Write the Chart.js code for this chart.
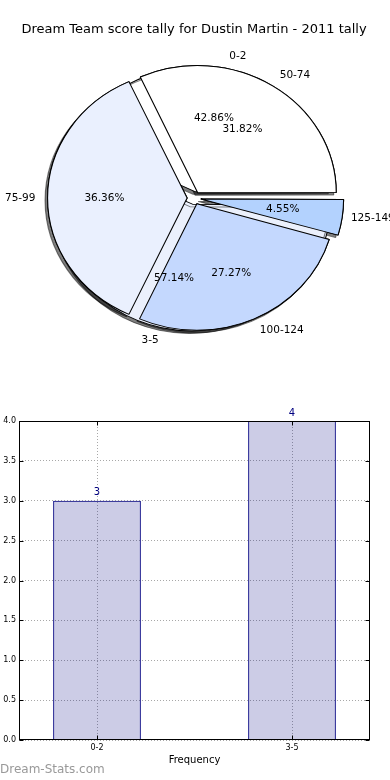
<!DOCTYPE html>
<html>
<head>
<meta charset="utf-8">
<script src="https://cdn.jsdelivr.net/npm/chart.js@4.4.1/dist/chart.umd.min.js"></script>
<style>
  html, body { margin:0; padding:0; background:#fff; }
  #wrap { position:relative; width:390px; height:780px; overflow:hidden; }
  canvas { position:absolute; left:0; }
  #pieBack, #pieFront { top:0; }
  #bars { top:400px; }
  #mark { position:absolute; left:0; top:762px; font:12px "DejaVu Sans", sans-serif; color:#999; }
</style>
</head>
<body>
<div id="wrap">
  <canvas id="pieBack" width="390" height="390"></canvas>
  <canvas id="pieFront" width="390" height="390"></canvas>
  <canvas id="bars" width="390" height="380"></canvas>
  <div id="mark">Dream-Stats.com</div>
</div>
<script>
// data
const chartTitle = "Dream Team score tally for Dustin Martin - 2011 tally";
const goalLabels = ["0-2", "3-5"];
const goalCounts = [3, 4];
const scoreLabels = ["50-74", "75-99", "100-124", "125-149"];
const scoreCounts = [7, 8, 6, 1];
const goalColors = ["#ffffff", "#ebf0fc"];
const scoreColors = ["#ffffff", "#eaf0fe", "#c4d8fe", "#b3d2fe"];
const freqTitle = "Frequency";

Chart.defaults.font.family = "'DejaVu Sans', sans-serif";
Chart.defaults.color = "#000";
Chart.defaults.animation = false;

const SX = 1.09;      // the matplotlib pie isn't equal aspect, so it's an ellipse
const PIE_R = 126.5;
const EXPLODE = 6.3;  // px the wedges are pushed out (chart.js divides offset by 4)

// matplotlib goes counter clockwise from 3 o'clock, chart.js clockwise -> reverse + rotation 90
const rev = (a)=> a.slice().reverse();

let backPie = null, frontPie = null;

function pieCenter(chart){
  const a = chart.chartArea;
  return { cx:(a.left+a.right)/2, cy:(a.top+a.bottom)/2 };
}

function setShadow(ctx){
  ctx.shadowColor = "rgba(0,0,0,0.5)";
  ctx.shadowOffsetX = -2.5;
  ctx.shadowOffsetY = 2.5;
}

const stretch = {
  id: "stretch",
  beforeDatasetsDraw(chart, args, opts){
    const ctx = chart.ctx, {cx, cy} = pieCenter(chart);
    ctx.save();
    ctx.translate(cx, cy); ctx.scale(SX, 1); ctx.translate(-cx, -cy);
    if (opts.shadow){
      setShadow(ctx);
      // shadows of the front pie go under everything, like matplotlib does
      if (frontPie) frontPie.getDatasetMeta(0).data.forEach(arc=> arc.draw(ctx));
    }
  },
  afterDatasetsDraw(chart){ chart.ctx.restore(); }
};

function wedgeText(ctx, chart, names, counts){
  const {cx} = pieCenter(chart);
  const total = counts.reduce((a,b)=>a+b,0);
  chart.getDatasetMeta(0).data.forEach((arc, i)=>{
    const p = arc.getProps(["x","y","startAngle","endAngle"], true);
    const mid = (p.startAngle + p.endAngle)/2;
    const c = Math.cos(mid), s = Math.sin(mid);
    const at = (k)=>({ x: cx + (p.x - cx + c*(k*PIE_R + EXPLODE))*SX, y: p.y + s*(k*PIE_R + EXPLODE) });
    const lab = at(1.1);
    ctx.textAlign = c > 0 ? "left" : "right";
    ctx.fillText(names[i], lab.x, lab.y);
    const pc = at(0.6);
    ctx.textAlign = "center";
    ctx.fillText((counts[i]*100/total).toFixed(2)+"%", pc.x, pc.y);
  });
}

function pieOptions(radius, shadow, titleColor){
  return {
    responsive:false,
    events:[],
    rotation:90,
    radius: radius,
    layout:{ padding:{ top:0, left:0, right:2, bottom:31.8 } },
    plugins:{
      legend:{ display:false },
      tooltip:{ enabled:false },
      stretch:{ shadow },
      title:{ display:true, text:chartTitle, color:titleColor,
              font:{ size:13, weight:"normal" }, padding:{ top:22.2, bottom:0 } }
    }
  };
}

backPie = new Chart(document.getElementById("pieBack"), {
  type:"pie",
  data:{
    labels: rev(goalLabels),
    datasets:[{ data: rev(goalCounts), backgroundColor: rev(goalColors),
                borderColor:"#000", borderWidth:1, offset: EXPLODE*4 }]
  },
  options: pieOptions(PIE_R - 6, true, "#000"),
  plugins:[stretch]
});

const pieLabels = {
  id:"pieLabels",
  afterDraw(chart){
    const ctx = chart.ctx;
    ctx.save();
    ctx.font = "10.5px 'DejaVu Sans'";
    ctx.fillStyle = "#000";
    ctx.textBaseline = "middle";
    wedgeText(ctx, backPie, rev(goalLabels), rev(goalCounts));
    wedgeText(ctx, chart, rev(scoreLabels), rev(scoreCounts));
    ctx.restore();
  }
};

frontPie = new Chart(document.getElementById("pieFront"), {
  type:"pie",
  data:{
    labels: rev(scoreLabels),
    datasets:[{ data: rev(scoreCounts), backgroundColor: rev(scoreColors),
                borderColor:"#000", borderWidth:1, offset: EXPLODE*4 }]
  },
  options: pieOptions(PIE_R, false, "rgba(0,0,0,0)"),
  plugins:[stretch, pieLabels]
});
backPie.update("none");

// bar chart: box, inward ticks, value labels
const frame = {
  id:"frame",
  afterDatasetsDraw(chart){
    const ctx = chart.ctx;
    const {left, top, right, bottom} = chart.chartArea;
    const L = Math.round(left)+0.5, T = Math.round(top)+0.5, R = Math.round(right)-0.5, B = Math.round(bottom)-0.5;
    ctx.save();
    ctx.strokeStyle = "#000";
    ctx.lineWidth = 1;
    ctx.beginPath();
    chart.scales.y.ticks.forEach(t=>{
      const y = Math.round(chart.scales.y.getPixelForValue(t.value))+0.5;
      ctx.moveTo(L, y); ctx.lineTo(L+4, y);
      ctx.moveTo(R, y); ctx.lineTo(R-4, y);
    });
    chart.scales.x.ticks.forEach(t=>{
      const x = Math.round(chart.scales.x.getPixelForValue(t.value))+0.5;
      ctx.moveTo(x, B); ctx.lineTo(x, B-4);
      ctx.moveTo(x, T); ctx.lineTo(x, T+4);
    });
    ctx.stroke();
    ctx.strokeRect(L, T, R-L, B-T);

    ctx.fillStyle = "#000080";
    ctx.font = "10px 'DejaVu Sans'";
    ctx.textAlign = "center";
    ctx.textBaseline = "bottom";
    chart.getDatasetMeta(0).data.forEach((bar, i)=>{
      ctx.fillText(String(goalCounts[i]), bar.x, bar.y - 3);
    });
    ctx.restore();
  }
};

new Chart(document.getElementById("bars"), {
  type:"bar",
  data:{
    datasets:[{
      data: goalCounts.map((v,i)=>({ x:i, y:v })),
      backgroundColor:"rgba(0,0,128,0.2)",
      borderColor:"#000080",
      borderWidth:1,
      barPercentage:0.45,
      categoryPercentage:1
    }]
  },
  options:{
    responsive:false,
    events:[],
    layout:{ padding:{ top:21, right:20, left:0, bottom:0 } },
    plugins:{ legend:{ display:false }, tooltip:{ enabled:false } },
    scales:{
      x:{
        type:"linear", min:-0.4, max:1.4, offset:false,
        afterBuildTicks:(s)=>{ s.ticks = goalLabels.map((_, i)=>({ value:i })); },
        afterFit:(s)=>{ s.height = 40; },
        ticks:{ callback:(v)=> goalLabels[v] ?? "", font:{ size:8 }, padding:3, maxRotation:0 },
        grid:{ color:"#a8a8a8", drawTicks:false, offset:false },
        border:{ display:false, dash:[1,2] },
        title:{ display:true, text:freqTitle, font:{ size:10 }, padding:{ top:0, bottom:14 } }
      },
      y:{
        min:0, max:4,
        afterFit:(s)=>{ s.width = 19; },
        ticks:{ stepSize:0.5, callback:(v)=> Number(v).toFixed(1), font:{ size:8 }, padding:3 },
        grid:{ color:"#a8a8a8", drawTicks:false },
        border:{ display:false, dash:[1,2] }
      }
    }
  },
  plugins:[frame]
});
</script>
</body>
</html>
